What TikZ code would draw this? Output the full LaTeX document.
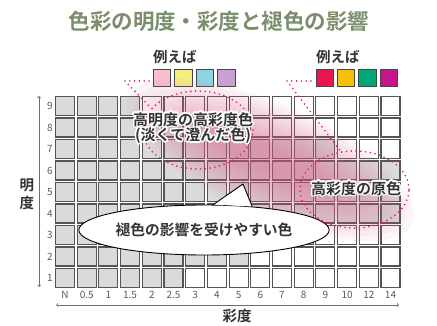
\documentclass[tikz,border=0pt]{standalone}
\usepackage{fontspec}
\setmainfont{Noto Sans CJK JP}[BoldFont={Noto Sans CJK JP Bold}]
\usepackage{xcolor}
\usetikzlibrary{arrows.meta,calc,shapes.geometric}

\definecolor{titlegreen}{RGB}{122,142,108}
\definecolor{txtdark}{RGB}{51,51,51}
\definecolor{numgray}{RGB}{90,90,90}
\definecolor{axisgray}{RGB}{110,110,110}
\definecolor{cellgray}{RGB}{218,218,220}
\definecolor{celledge}{RGB}{85,85,85}
\definecolor{swedge}{RGB}{70,70,70}
\definecolor{dotred}{RGB}{232,28,80}
\definecolor{glowpink}{RGB}{215,95,135}
\definecolor{swPink}{RGB}{247,192,203}
\definecolor{swYellow}{RGB}{246,238,130}
\definecolor{swCyan}{RGB}{140,212,224}
\definecolor{swLilac}{RGB}{200,160,210}
\definecolor{swRed}{RGB}{232,22,74}
\definecolor{swAmber}{RGB}{248,190,12}
\definecolor{swGreen}{RGB}{0,168,120}
\definecolor{swMagenta}{RGB}{200,20,140}

% label with a white halo round it
\newcommand{\halolabel}[3]{%
  \foreach \a in {0,30,...,330}
    \node[hilabel, text=white] at ($(#2)+(\a:1.5)$) {#3};
  \node[hilabel] (#1) at (#2) {#3};
}

\begin{document}
\begin{tikzpicture}[x=1pt, y=-1pt,
    cell/.style={draw=celledge, line width=1.1pt},
    swatch/.style={draw=swedge, line width=0.9pt, minimum size=17.5pt, inner sep=0pt},
    num/.style={text=numgray, font=\fontsize{10}{12}\selectfont, inner sep=0pt},
    dots/.style={draw=dotred, line width=1.8pt, line cap=round, dash pattern=on 0pt off 4.8pt},
    ring/.style={ellipse, dots, inner sep=0pt},
    hilabel/.style={text=txtdark, font=\fontsize{15}{15.5}\selectfont\bfseries, align=center, inner sep=0pt},
    bubble/.style={ellipse, draw=black, line width=0.9pt, fill=white, minimum width=208pt,
      minimum height=50pt, inner sep=0pt, text=txtdark, font=\fontsize{14.75}{16}\selectfont\bfseries},
    axis/.style={draw=axisgray, line width=0.7pt,
      {Straight Barb[length=1.6pt,width=3.2pt]}-{Straight Barb[length=1.6pt,width=3.2pt]}},
    axislabel/.style={text=txtdark, font=\fontsize{14.5}{18}\selectfont\bfseries, align=center, inner sep=0pt},
  ]
  \useasboundingbox (0,0) rectangle (437,326);
  \fill[white] (0,0) rectangle (437,326);

  % Title
  \node[text=titlegreen, font=\fontsize{21.5}{24}\selectfont\bfseries] (title) at (219,21.5)
    {色彩の明度・彩度と褪色の影響};

  % Examples
  \node[text=txtdark, font=\fontsize{14.5}{16}\selectfont\bfseries, anchor=west, inner sep=0pt] (exL) at (153,57) {例えば};
  \node[text=txtdark, font=\fontsize{14.5}{16}\selectfont\bfseries, anchor=west, inner sep=0pt] (exR) at (316,57) {例えば};
  \foreach \col [count=\k from 0] in {swPink,swYellow,swCyan,swLilac}
    \node[swatch, fill=\col] (swL\k) at ({161.75+21.5*\k},78) {};
  \foreach \col [count=\k from 0] in {swRed,swAmber,swGreen,swMagenta}
    \node[swatch, fill=\col] (swR\k) at ({324.75+21.4*\k},78) {};

  % Grid (gray up to the last column given per row)
  \foreach \r/\m in {1/5,2/8,3/11,4/15,5/15,6/15,7/12,8/8,9/3} {
    \foreach \c in {0,...,15} {
      \pgfmathsetmacro\cx{65+21.7*\c}
      \pgfmathsetmacro\cy{106+21.5*(9-\r)}
      \ifnum\c>\m \def\fc{white}\else\def\fc{cellgray}\fi
      \draw[cell, fill=\fc] (\cx-9.5,\cy-9.5) rectangle ++(19,19);
    }
  }

  % Axes
  \foreach \r in {1,...,9}
    \node[num] (row\r) at (50,{106+21.5*(9-\r)}) {\r};
  \foreach \t [count=\i from 0] in {N,0.5,1,1.5,2,2.5,3,4,5,6,7,8,9,10,12,14}
    \node[num] (col\i) at ({65+21.7*\i},295) {\t};
  \draw[axis] (39,287) -- (39,96);
  \draw[axis] (56,305) -- (399,305);
  \node[axislabel] (ylab) at (27,194) {明\\度};
  \node[axislabel] (xlab) at (237,316) {彩度};

  % Pink glow
  \foreach \k in {0,...,11}
    \fill[glowpink, fill opacity=0.06, rotate around={-24:(270,160)}]
      (270,160) ellipse ({155-8.5*\k} and {56-4*\k});

  % Dotted rings and leaders
  \node[ring, minimum width=110pt, minimum height=78pt] (hiL) at (198,130) {};
  \node[ring, minimum width=109pt, minimum height=77pt] (hiR) at (354.5,189.5) {};
  \coordinate (cL) at (125,81);
  \coordinate (cL2) at (149,81);
  \coordinate (cR) at (287,81);
  \coordinate (cR2) at (311,81);
  \draw[dots] (cL2) -- (cL) -- (hiL.155);
  \draw[dots] (cR2) -- (cR) -- (hiR.110);

  % Speech bubble
  \node[bubble] (fade) at (204,230) {褪色の影響を受けやすい色};
  \coordinate (tip) at (243,184);
  \fill[white] (fade.70) -- (tip) -- (fade.26) -- cycle;
  \draw[black, line width=0.9pt, line join=round] (fade.70) -- (tip) -- (fade.26);

  % Labels
  \halolabel{hiLtext}{193,128}{高明度の高彩度色\\(淡くて澄んだ色)}
  \halolabel{hiRtext}{356,188.5}{高彩度の原色}
\end{tikzpicture}
\end{document}
